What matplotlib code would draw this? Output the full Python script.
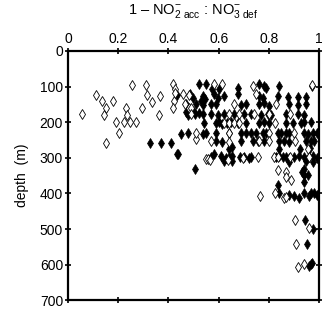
import matplotlib
matplotlib.use('Agg')
import matplotlib.pyplot as plt

plt.rcParams['font.family'] = ['Liberation Sans', 'DejaVu Sans']
plt.rcParams['mathtext.fontset'] = 'custom'
plt.rcParams['mathtext.rm'] = 'Liberation Sans'
plt.rcParams['mathtext.it'] = 'Liberation Sans:italic'

# filled diamonds: ratio, depth (m)
filled_x = [0.52, 0.55, 0.76, 0.78, 0.79, 0.84, 0.97,
            0.575, 0.60, 0.675,
            0.435, 0.484, 0.497, 0.537, 0.583, 0.597, 0.623, 0.676, 0.762, 0.775, 0.835, 0.875, 0.915, 0.948, 0.53, 0.545,
            0.47, 0.51, 0.537, 0.57, 0.59, 0.69, 0.71, 0.762, 0.78, 0.80, 0.88, 0.915, 0.948,
            0.477, 0.47, 0.504, 0.537, 0.57, 0.597, 0.623, 0.66, 0.70, 0.73, 0.77, 0.795, 0.81, 0.87, 0.915, 0.94, 0.50, 0.52,
            0.54, 0.59, 0.60, 0.615, 0.635, 0.65, 0.675, 0.71, 0.762, 0.78, 0.80, 0.868, 0.895, 0.928, 0.94, 0.967,
            0.45, 0.477, 0.537, 0.55, 0.59, 0.643, 0.69, 0.71, 0.73, 0.75, 0.775, 0.79, 0.835, 0.85, 0.87, 0.88, 0.94, 0.955, 0.975, 0.99,
            0.325, 0.372, 0.411, 0.59, 0.615, 0.69, 0.735, 0.755, 0.78, 0.84, 0.86, 0.88, 0.948, 0.967, 0.98,
            0.643, 0.655, 0.84, 0.925, 0.965,
            0.434, 0.438, 0.583,
            0.57, 0.61, 0.63, 0.643, 0.655, 0.683, 0.70, 0.72, 0.73, 0.83, 0.84, 0.855, 0.868, 0.88, 0.90, 0.92, 0.94, 0.96, 0.975, 0.99,
            0.62, 0.655, 0.88, 0.948, 0.975,
            0.504, 0.94,
            0.93, 0.94, 0.955,
            0.94, 0.835,
            0.84, 0.88, 0.90, 0.918, 0.94, 0.96, 0.967, 0.98, 0.99,
            0.943, 0.976, 0.952,
            0.96, 0.967, 0.973]
filled_depth = [94, 94, 94, 99, 104, 99, 99,
                108, 108, 104,
                124, 122, 131, 127, 122, 131, 127, 122, 127, 131, 127, 129, 129, 128, 140, 135,
                150, 148, 152, 150, 148, 152, 150, 150, 146, 155, 150, 152, 150,
                180, 172, 178, 176, 178, 180, 178, 178, 178, 176, 180, 178, 180, 178, 178, 180, 170, 175,
                201, 201, 198, 204, 201, 200, 201, 201, 201, 198, 201, 201, 203, 201, 200, 199,
                233, 231, 233, 229, 231, 229, 231, 229, 231, 229, 231, 229, 231, 229, 231, 229, 231, 233, 229, 231,
                259, 259, 259, 252, 256, 252, 252, 252, 252, 252, 252, 255, 252, 252, 252,
                275, 270, 275, 275, 272,
                288, 289, 289,
                298, 296, 300, 298, 296, 298, 298, 300, 298, 298, 296, 298, 298, 300, 298, 296, 298, 298, 296, 300,
                310, 310, 312, 310, 312,
                331, 330,
                340, 349, 349,
                367, 377,
                400, 404, 408, 414, 400, 406, 400, 400, 404,
                474, 499, 543,
                604, 597, 594]

# open diamonds: ratio, depth (m)
open_x = [0.057, 0.11, 0.134, 0.153, 0.142, 0.18, 0.23, 0.234, 0.19, 0.223, 0.247, 0.27, 0.205, 0.151,
          0.255, 0.312, 0.313, 0.336, 0.294, 0.362, 0.365, 0.418, 0.425, 0.422, 0.418, 0.48, 0.48, 0.425, 0.49,
          0.583, 0.614, 0.735, 0.748, 0.46, 0.465, 0.66, 0.83, 0.49, 0.64, 0.68, 0.74, 0.80, 0.885,
          0.62, 0.64, 0.66, 0.68, 0.825, 0.51, 0.51, 0.643, 0.80, 0.90, 0.57, 0.643, 0.76, 0.80, 0.905,
          0.957, 0.55, 0.557, 0.565, 0.636, 0.695, 0.755, 0.82, 0.835, 0.885, 0.96,
          0.835, 0.87, 0.87, 0.888, 0.766, 0.825, 0.861, 0.87, 0.903, 0.958, 0.907, 0.914, 0.94, 0.97]
open_depth = [178, 124, 139, 159, 180, 141, 161, 180, 199, 199, 199, 198, 229, 258,
              96, 96, 124, 143, 159, 180, 127, 94, 108, 139, 159, 124, 159, 117, 159,
              94, 94, 99, 122, 122, 150, 150, 150, 178, 178, 178, 178, 178, 178,
              201, 201, 201, 201, 201, 247, 229, 229, 229, 229, 252, 256, 252, 252, 252,
              275, 303, 303, 306, 307, 300, 298, 298, 298, 298, 298,
              335, 340, 355, 363, 406, 400, 414, 410, 474, 497, 543, 606, 597, 95]

x_ticks = [0, 0.2, 0.4, 0.6, 0.8, 1]
x_labels = ['0', '0.2', '0.4', '0.6', '0.8', '1']
y_ticks = [0, 100, 200, 300, 400, 500, 600, 700]

fig = plt.figure(figsize=(3.25, 3.09), dpi=100)
ax = fig.add_axes([0.209, 0.028, 0.773, 0.807])

ax.plot(filled_x, filled_depth, linestyle='none', marker='d', ms=5.5,
        mfc='black', mec='black', mew=0.5, zorder=2)
ax.plot(open_x, open_depth, linestyle='none', marker='d', ms=5.5,
        mfc='white', mec='black', mew=0.6, zorder=3)

ax.set_xlim(0, 1)
ax.set_ylim(700, 0)
ax.set_xticks(x_ticks)
ax.set_xticklabels(x_labels)
ax.set_yticks(y_ticks)
ax.xaxis.tick_top()
ax.tick_params(axis='both', direction='inout', length=5, width=1.2, labelsize=10,
               top=True, bottom=True, left=True, right=True,
               labeltop=True, labelbottom=False, labelleft=True, labelright=False, pad=1)
for sp in ax.spines.values():
    sp.set_linewidth(1.6)

ax.set_title(r'1 – NO$_{2\ \mathrm{acc}}^{-}$ : NO$_{3\ \mathrm{def}}^{-}$', fontsize=10.5, pad=13)
ax.set_ylabel('depth  (m)', fontsize=10, labelpad=8)

fig.savefig('out.png', dpi=100)
